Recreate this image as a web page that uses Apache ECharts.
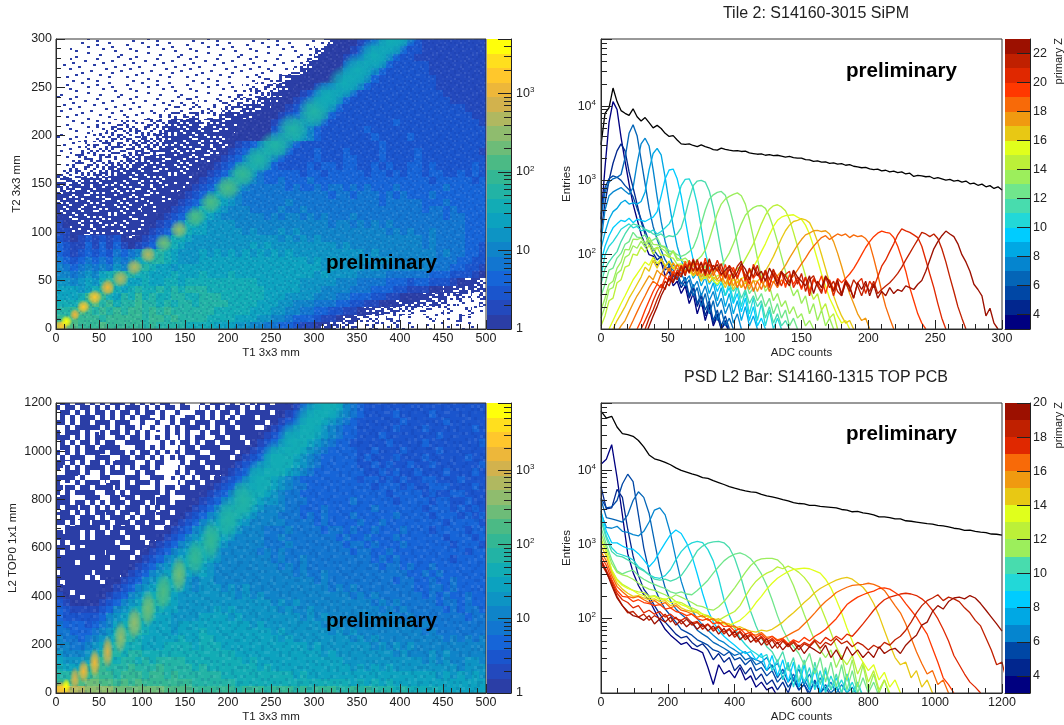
<!DOCTYPE html>
<html><head><meta charset="utf-8">
<style>html,body{margin:0;padding:0;background:#fff}#c{width:1064px;height:725px}</style>
<script src="https://cdn.jsdelivr.net/npm/echarts@6/dist/echarts.min.js"></script>
</head><body><div id="c"></div>
<script>
// ---------- values ----------
// 2D panels: one char per cell. '.' empty, ', - : ~ ; +' partly occupied cells, 0-9 a-j = colour band index
const rowsA = [
"...,,,,,,, ,,,,,,,,,, ,,,,,,,,,, ,,,,,,,:;0 0012356653 2111111111",
"..,,,,,,,, ,,,,,,,,,, ,,,,,,,,,, ,,,,,,:;00 0123566532 2111111111",
"..,,,,,,,, ,,,,,,,,,, ,,,,,,,,,, ,,,,,:;000 1235665322 1111111111",
".,,,,,,,,, ,,,,,,,,,, ,,,,,,,,,, ,,,,:;0000 2356653222 2211111111",
".,,,,,,,,, ,,,,,,,,,, ,,,,,,,,,- ,,-:;00000 3566532222 2211111111",
",,,,,,,,,, ,,,,,,,,,, ,,,,,,,,-- -:;+000001 5665322222 2221111111",
",,,,,,,,,, ,,,,,,,,,, ,,,,,,---: :;+0001235 6653222222 2221111111",
",,,,,,,,,, ,,,,,,,,,- ,,,,---::: ;+00123566 5322222222 2222111111",
",,,,,,,,,, ,,,,,,,--- ,,---:::;; +001235665 3222222222 2222211111",
",,,,,,,,,, ,,,,,----- ---:::;;;+ 0012356653 2222222222 2222222111",
",,,,,,,,,- ,,,---:::; ,::;;;;+00 0123566532 2222222222 2222222211",
",,,,,,---: ---:::;;;; :;;;;+0000 1235665322 2222222322 2222222221",
",,,,,--::: :::::;;;;; ;;;;+00000 2356653222 2223222222 2222222222",
",,,,--:::: ::~~~;;;;; ;;;+000000 3567653222 2222322223 2222222222",
",,,-:::::: :~~~~;;;;; ;;;;012356 7653222222 2222232222 2222222222",
",,-::::::: ~~~~~;;;;; ;;;0123567 6532223222 3222232222 3222222221",
",,-::::::~ ~~~;;;;;;; ;;01235676 5322223222 3322232222 3222222222",
",-:::::~~~ ~;;;;;;;;; 0012356765 3222232332 3322323223 3232222232",
":::::~~~;; ;;;;;;;;;0 0123577643 3333233233 3332332323 3233223232",
":~~~;;;;;; ;;;;;++++0 1235776543 3433343333 3333333333 3323333323",
"~~;;;;;;;; ;;;;;+++01 2357765444 4434334344 3434333433 3333433333",
";;;;;;;;;; ;;;;+++012 3577654444 4444444434 4344434343 3343333333",
";;;;;;;;;; ;;;+++0123 5887654444 4454444444 4444434444 4333433333",
"+;;;;;;;;; ;;+++01235 8876555444 4544544444 4444444444 4344343333",
"0;;;;;;;;; ;+++012358 8765555554 5455454544 4544444444 4444344333",
"10;;;;;;;; +++0123588 7666655555 5555555545 5454545444 4444444333",
"11+;;;;;+; ++01235887 7666665655 5656555555 5555554545 4454444333",
"2101212120 ;012358876 6666666666 6565656555 5555555555 5454444333",
"3211313131 0123588766 6666666767 6666666665 6555555555 5454444332",
"3212323243 4578987666 7676767676 7676666666 6665655555 5554544332",
"4323434354 5789987666 7777777777 7777767676 6666566555 5554443322",
"5434545465 7998776777 7777777777 7777777676 6665655555 5544433221",
"5545657899 9887778777 8777877777 7777776766 6655554444 4433322210",
"6656768998 7787788788 8888888877 7777666665 5544443332 3322210;;~",
"7776789a87 8988989899 9888888887 7777666555 5444333221 1100;;;~~~",
"7778a9a879 8a89889988 9998888887 7766665554 4333221100 0;;;~~~:,~",
"8889ab9a89 9a99898998 9999888877 7665554443 3221100;;; ~~~~:,:,,:",
"99aba9a9a9 aa9a9a9999 9988888777 6655443322 110;;~~~:: ,:,,:,,:,,",
"aabaaa9aaa aa9aa9a999 9888877766 5543332110 ;;~::,::,, ,,:,,,:,,,",
"ccbaaabaaa aa9a999988 8877766554 4332110;;: ::,,:,,:,, ,,,,,,,,,,"
];
const rowsC = [
"~~~~~~~~~~ ~~~:~~:::: ~~~~~~~~;; ;;01356887 5432222222 2222222222",
"~~~~~~~~~~ ~~~::::::: ~~~~~~;;;; ;012368876 5432222322 2232222222",
"~~~~~~~;~~ ~~:~:::~:~ ~~~~;;;;;; 0123588765 4322222232 2222322222",
"~~~;~~~~~~ ~~::~:::~~ ~~~~;;;;;0 1235887654 3322222322 2322222232",
"~~~~~;~~~~ ~:~::::~~~ ~~~;;;;;01 2356887654 3322232222 2223222222",
"~;~~~~~~~~ ~~~::::~~~ ~~;;;;;012 3568876543 3222223222 2322222223",
"~~~~~~;~~~ ~~~~:::~~~ ~~;;;;0123 5788765433 3322322232 2223222222",
"~;~~~~~~~~ ~~~~~,,~~~ ~;;;;01235 8887654333 3323222322 2322222322",
";~~~~~~~;~ ~~~~~,,~~~ ;;;;012356 8887654333 3322323223 2232222223",
"~~;~~~~~~~ ~~~~~,,~~; ;;;0123568 8876543333 3332232322 3222322232",
"~;~~~~;~~~ ~~~~~,:~~; ;;01235688 7654333333 3323323232 2332223222",
";~~~~~~;~~ ~~~~~::~~; ;012356788 7654433333 3333233323 2233322232",
"~~~~;~~~~; ~;~~~~~~;; 0123567887 6544333333 3333332333 3232233222",
";~~;~~~~~~ ~;~~;~~;;0 1235678876 6544433333 3433333233 3323322322",
"~;;~~~;;~~ ;~~;~~;;01 2356788765 5544333433 3333433333 3233323232",
";;~~;~~;;~ ~;;~;;;012 3567887655 5444343433 3433333433 3323332323",
"~;~;~;;~;~ ;;~;;;0123 5678876555 5544443433 3343343333 3333233332",
";~;;;;;~;; ;;;;;01235 6788765554 4454444344 3433433343 3323333233",
";;;;;;;;;; ;;;;012356 7887655554 4544444443 4334333433 3333233323",
";;;;;;;;;; ;;;0123567 8876555554 4454444444 3443433343 3333323332",
";;;+;;;+;; ;;01235678 8765555545 4544444444 4344334333 3333333233",
";+;;+;+;;+ ;012356788 8765555555 4544544444 4444343433 3333323333",
"+;+;+;+;+; 0123567887 7655555555 5454544444 4444434434 3343333333",
"+;+++;+++0 1235678876 7655555555 5554544544 4444444443 3434333333",
"+++++++001 2356788765 6655555555 5555554544 4444444344 3343343333",
"0+++++0012 3567888765 6665656555 5555555545 4544444444 3344343333",
"10+++00123 5678987666 6666656565 5555555555 5454544444 4343433433",
"2100001235 6789987666 6666666666 5656555555 5555454544 4443443433",
"3211112356 7899877666 6676766666 6565565555 5555545454 4444343443",
"3222223567 8998776666 7777676666 6666565655 5555555545 4444444344",
"4333234578 9987776777 7777777676 6666666565 5555555555 4544444444",
"4433345689 9987776777 8777777777 6766666656 5655555555 5454444444",
"5443456789 9877777877 8877777777 7676666666 6565655555 5555454545",
"5544567898 8877788887 8887777777 7777767666 6666565656 5555555555",
"6555679998 9988888888 8888877777 7777777676 6666666565 5565655555",
"766678a989 9898999988 8888887877 7777777777 6666666666 6565655665",
"87779aa999 a999a99998 9888888878 7777777777 7676767666 6666665666",
"999aabaa9a aa9aa9a999 9998888888 8887877777 7777777777 7776767676",
"aabbccbbab abaaaaaaa9 9999988888 8888888888 8787878777 7777777777",
"ffeeddddcc cccccbbbba aaaaa9aaa9 aaa9a9aaa9 9a9a999898 8888777777"
];
// Bright spots along the ridge: x, y, colour band, spread in x, spread in y
const spotsA = [[6,3,17,8,6],[12,8,19,7,6],[22,15,16,6,6],[32,23,17,8,7],[45,33,17,9,8],[60,43,16,9,9],[75,52,14,10,9],[91,64,14,10,9],[107,77,14,10,9],[125,89,12,11,10],[143,103,13,11,10],[162,116,11,13,11],[180,131,11,13,12],[200,146,11,16,13],[217,160,10,16,14],[235,175,9,18,15],[255,190,9,20,16],[275,207,9,20,17],[300,225,9,20,18],[315,240,8,20,18],[335,255,8,20,18],[350,268,8,20,18],[370,283,8,20,18],[390,298,8,20,18],[405,310,8,20,18]];
const spotsC = [[6,20,17,8,30],[12,30,19,5,30],[22,60,15,6,50],[32,90,16,7,50],[45,125,16,7,60],[60,170,15,7,70],[75,230,13,8,70],[91,290,13,9,70],[107,350,12,9,80],[125,420,11,10,80],[143,490,12,10,80],[162,560,10,11,80],[180,630,10,12,90],[200,720,9,14,90],[217,800,9,15,90],[235,880,8,16,90],[255,960,8,18,90],[275,1040,8,18,90],[295,1120,8,20,90],[315,1200,8,20,90]];
// Irregular speck mask for partly occupied cells and the fine grain of filled ones
const speckMask = ["37150926481703952648","82946130759284160375","16082574913605827491","59371648205917364028","24805196376248095163","91637028451983726504","48259371606472518397","06714852937150649281","73596024186829371560","25108963472604958317","68342719058391726045","14970582364758013692","80625149738026491853","39481706259164837201","57203894614972506386","02869351780435162979","96417260538197846021","41758023996260371584","63094817254581920736","78526349102743689415"];
const sparseKinds = {',':1, '-':2, ':':4, '~':6, ';':8, '+':9};

const birdBands = ["#2b3ea6","#2349bd","#1a55cd","#1665d8","#1276d0","#0f84c9","#0d94c4","#0ca2bf","#12acb5","#22b3a5","#33b794","#4bba85","#6dbc78","#8fbc6e","#b0b860","#d2b24d","#edb73a","#ffc72c","#ffdf1e","#ffff0a"];
const jetBands = ["#000080","#01268e","#0047a5","#0465b7","#0585cf","#00a8e4","#00ccff","#22d8d8","#48dcae","#70e68c","#9cee5c","#bcf038","#e0ff1c","#e8c814","#f09a10","#f86a08","#ff3800","#e02800","#c02000","#9c1000"];

// Tile 2 spectra, one entry every 3 ADC counts (ten per group = 30 counts)
const adcStepB = 3;
const totalB = [3000,8000,9500,17500,11500,8700,8000,7500,9200,7200,6300,7000,6000,5100,5500,5000,4300,3900,4000,3500,3100,3050,3100,2950,2850,3000,2850,2750,2600,2550,2720,2620,2550,2500,2520,2450,2480,2350,2300,2250,2270,2180,2220,2150,2180,2120,2060,2100,2030,1990,2000,1900,1890,1800,1830,1760,1770,1700,1720,1660,1680,1600,1630,1550,1520,1480,1500,1430,1400,1420,1340,1370,1300,1330,1270,1300,1220,1250,1130,1170,1150,1120,1130,1060,1090,1050,1010,1030,980,1000,950,980,900,920,860,890,820,850,780,820,740];
const zB3 = [300,1500,6000,11500,9000,3800,1800,900,480,300, 190,135,100,96,72,80,52,60,38,44, 30,38,22,30,16,24,13,20,11,15, 10,12,9];
const zB4 = [200,500,1000,1700,2500,3100,2500,1300,800,480, 280,190,140,105,85,95,62,70,45,50, 36,44,26,36,20,28,15,22,12,16, 10,13,9];
const zB5 = [350,800,1050,1150,1100,1000,850,750,600,420, 300,210,150,120,100,88,70,78,50,58, 40,50,28,40,22,30,18,24,13,18, 11,15,10];
const zB6 = [300,700,950,1050,1100,1200,2000,4300,5600,4000, 1900,900,420,240,160,115,85,70,62,50, 42,38,46,28,36,20,30,16,24,13, 18,11,14,10];
const zB7 = [150,400,620,700,750,800,720,650,800,1700, 3100,3700,2900,1400,600,280,150,100,72,65, 55,44,52,36,44,28,38,24,32,20, 26,16,22,12,16,10];
const zB8 = [120,200,300,380,420,500,540,480,500,480, 520,700,1400,2300,2700,2200,1100,500,240,130, 85,62,70,48,58,38,50,30,42,24, 36,20,30,16,24,13,20,11,15,10];
const zB9 = [80,130,180,230,260,290,280,310,270,300, 290,280,300,320,380,620,1050,1380,1420,1050, 620,300,150,85,60,50,58,40,48,32, 42,28,36,22,30,17,26,13,20,11, 14,10];
const zB10 = [50,100,130,150,180,220,240,260,230,240, 210,220,200,215,190,205,230,260,330,550, 850,1030,1050,800,480,230,110,65,45,38, 46,28,42,24,38,20,32,16,26,13, 22,11,18,10,14,10];
const zB11 = [40,65,80,95,110,150,190,230,260,250, 240,220,210,190,180,190,170,180,175,190, 230,340,560,850,980,1000,950,720,430,220, 110,60,40,32,38,26,34,22,28,20, 24,14,20,12,16,11,13,10];
const zB12 = [28,40,62,66,90,104,138,150,200,172, 170,186,150,158,170,132,128,112,110,100, 95,100,110,125,170,260,400,560,640,690, 710,630,440,270,140,75,45,30,36,24, 30,20,26,16,22,14,18,11,14,10];
const zB13 = [18,26,40,44,66,80,118,116,162,160, 168,140,172,138,136,130,124,98,114,90, 85,90,80,75,85,95,115,160,240,360, 480,560,610,650,680,620,480,300,170,90, 50,32,38,24,30,20,24,16,20,14, 16,11,13,10];
const zB14 = [14,20,34,36,56,62,92,100,132,122, 152,126,156,118,126,122,112,94,110,84, 85,78,82,70,65,60,70,62,58,65, 72,85,105,140,190,260,340,390,430,455, 460,420,330,230,150,95,60,40,28,34, 22,28,16,22,13,18,11,14,10];
const zB15 = [11,15,24,26,42,46,68,72,102,98, 128,108,136,102,126,98,100,92,90,74, 75,70,72,60,65,55,50,55,48,52, 55,50,48,55,65,70,88,110,140,190, 260,340,410,455,470,440,390,300,200,130, 80,52,35,25,30,18,22,14,16,10];
const zB16 = [6,8,10,13,17,22,28,36,46,55, 66,80,72,92,76,88,70,82,66,72, 72,62,60,52,58,48,48,54,45,40, 48,42,40,46,42,48,50,58,68,85, 110,140,185,240,290,320,335,340,345,320, 300,250,190,130,85,55,38,26,20,15, 12,13,10];
const zB17 = [5,6,8,10,13,16,20,26,32,40, 50,68,60,84,66,88,70,82,64,72, 70,58,66,52,60,44,56,42,50,44, 46,36,48,34,44,36,42,38,44,44, 50,60,75,95,125,165,210,250,280,290, 305,295,270,210,150,100,65,42,28,20, 15,12,13,10];
const zB18 = [4,5,6,7,9,11,13,17,22,28, 34,42,52,46,62,54,70,60,78,64, 66,58,72,54,66,50,62,48,60,46, 56,40,54,38,50,36,48,34,46,32, 44,36,46,42,52,60,72,90,110,135, 160,185,195,210,213,205,210,190,150,105, 70,45,30,22,16,13,14,10];
const zB19 = [3,3,4,5,6,7,8,10,13,17, 22,28,36,44,40,56,50,66,54,74, 60,82,56,78,52,70,60,84,52,68, 44,60,38,52,36,48,34,50,32,44, 34,48,32,44,36,46,40,45,52,62, 75,90,110,130,150,170,180,160,175,190, 180,190,170,185,175,180,165,140,90,55, 32,20,14,10];
const zB20 = [2,3,3,4,4,5,6,7,8,10, 13,18,24,32,40,36,50,44,60,52, 72,56,84,60,78,56,90,58,72,62, 52,74,46,68,50,70,44,62,48,58, 42,62,38,56,44,60,36,54,40,50, 34,50,32,48,38,52,30,46,34,48, 42,48,55,65,80,100,125,150,175,195, 208,200,195,170,130,90,60,36,24,16, 12,10];
const zB21 = [2,2,3,3,3,4,4,5,6,7, 10,13,17,24,32,40,34,52,44,62, 54,76,58,88,62,80,52,74,60,84, 62,50,72,60,48,66,54,40,74,58, 44,58,36,62,50,38,54,60,36,46, 36,50,28,46,40,32,50,44,28,42, 30,46,38,26,42,48,30,44,36,50, 70,85,110,140,185,222,210,200,185,170, 130,85,55,36,22,14,10];
const zB22 = [2,2,2,3,3,3,4,4,5,6, 8,10,14,18,25,33,44,38,55,46, 70,52,78,60,86,58,80,54,72,60, 76,48,64,52,70,82,46,66,50,72, 44,62,46,64,38,58,52,42,60,40, 56,32,46,52,38,30,50,36,44,32, 28,42,32,46,38,28,40,32,44,30, 34,38,42,48,56,68,85,105,130,160, 200,190,175,190,165,120,80,50,32,20, 14,10];
const zB23 = [2,2,2,2,3,3,3,3,4,5, 6,8,11,15,20,28,36,48,42,58, 50,70,58,84,60,78,56,88,62,74, 54,62,70,48,58,76,64,46,68,52, 60,44,66,52,40,60,46,38,62,50, 44,38,52,30,44,36,52,42,32,46, 28,44,36,26,42,34,44,28,40,26, 32,28,36,30,34,32,38,36,34,40, 45,60,85,120,150,180,208,190,175,140, 100,80,60,40,34,28,15,19,12,10];

// PSD L2 bar spectra, one entry every 16 ADC counts
const adcStepD = 16;
const totalD = [62000,50000,53000,38000,31000,30000,28500,25000,20500,16000,14200,13500,12700,11800,10700,9900,9400,8900,8500,7900,7750,7200,6800,6400,6000,5700,5450,5250,5100,5000,4700,4500,4350,4200,4000,3850,3650,3550,3500,3350,3350,3250,3200,3150,3100,2950,2900,2750,2780,2650,2600,2500,2350,2350,2300,2200,2200,2080,2050,2000,1950,1900,1880,1800,1780,1720,1650,1620,1540,1560,1500,1460,1440,1380,1370,1330];
const zD3 = [12000,14000,22000,8000,2500,750,420,280,210,180, 130,95,72,60,52,45,48,40,38,35, 22,13,24,18,20,16,22,15,17,12, 14,11,12,9];
const zD4 = [6000,3000,3100,5500,4300,1600,700,380,250,200, 150,115,90,75,62,55,58,48,42,46, 38,28,34,26,30,20,24,18,22,15, 18,13,15,11,14,10,16,11,13,9];
const zD5 = [4200,3100,3200,3900,6500,8800,7000,2500,900,430, 260,180,135,110,90,72,66,60,52,48, 44,38,36,32,36,28,30,24,28,20, 22,17,20,14,17,12,15,11,13,10, 15,10,12,9];
const zD6 = [4000,2300,2200,2100,2000,2500,3900,5100,4300,2600, 1100,480,260,175,135,115,100,88,70,62, 56,48,44,40,36,32,34,28,30,24, 26,20,24,16,21,14,18,12,15,11, 14,10,13,10,12,9];
const zD7 = [2600,1700,1650,1750,1500,1450,1350,1300,1500,2000, 2900,3100,2500,1400,650,320,190,130,100,82, 70,60,52,48,42,38,34,36,30,28, 26,30,22,25,18,24,15,21,13,18, 12,16,11,14,10,13,10,12,9];
const zD8 = [2800,1500,1050,1050,950,880,860,750,620,500, 600,800,1050,1350,1560,1400,1050,700,400,220, 130,90,70,58,50,44,38,34,36,28, 34,20,32,17,28,14,26,12,24,11, 22,10,20,11,16,10,18,10,14,9];
const zD9 = [2400,1300,900,760,720,680,620,500,450,390, 360,350,380,460,620,800,950,1050,1100,1060, 850,600,350,180,110,75,55,45,38,34, 30,33,20,28,15,26,12,24,14,22, 11,20,10,17,11,15,10,14,9];
const zD10 = [2100,1200,800,700,680,620,560,480,440,390, 340,330,340,320,340,380,480,620,820,950, 1040,1080,1100,1050,900,650,400,220,125,80, 55,42,36,26,36,20,30,14,28,12, 26,13,22,11,18,10,16,10,13,9];
const zD11 = [1700,1000,620,440,400,430,450,380,340,310, 290,270,255,230,220,230,215,210,240,280, 330,410,500,600,680,740,770,720,640,520, 400,280,180,110,72,52,42,34,24,34, 18,30,14,26,12,24,11,20,10,16, 10,14,9];
const zD12 = [1400,900,550,420,390,370,340,300,270,250, 240,225,210,190,210,195,180,165,150,145, 135,130,145,170,210,260,330,420,520,600, 640,650,650,620,530,400,280,180,115,75, 50,38,30,38,22,32,15,28,12,24, 11,18,10,15,9];
const zD13 = [1200,800,450,340,290,265,240,230,225,200, 205,190,180,195,170,165,150,140,130,115, 110,100,95,105,115,125,150,200,260,320, 370,410,440,500,470,510,470,420,360,290, 210,150,100,65,42,30,24,32,18,26, 14,20,11,15,10];
const zD14 = [1100,800,450,330,280,255,240,215,205,190, 200,180,185,165,170,155,145,130,125,115, 105,100,90,85,82,88,95,110,130,165, 200,250,300,350,390,430,460,470,480,470, 440,410,340,260,180,120,75,50,34,26, 20,24,15,19,12,15,10];
const zD15 = [950,700,420,300,250,220,200,205,190,180, 185,170,175,150,160,140,130,125,120,105, 110,95,100,88,85,75,78,72,68,66, 70,68,72,80,90,105,120,140,165,190, 225,255,280,305,330,350,360,340,300,265, 215,160,110,70,45,30,24,26,16,20, 12,15,10];
const zD16 = [800,600,380,270,230,200,190,200,180,165, 175,155,165,140,150,130,125,115,105,110, 95,100,85,90,78,80,70,72,62,60, 65,56,58,52,55,60,66,72,85,100, 120,145,170,195,225,245,265,280,285,290, 300,290,270,240,190,150,120,85,55,36, 25,18,20,13,15,10];
const zD17 = [700,520,340,240,200,195,170,180,165,160, 150,155,135,140,125,120,110,115,100,95, 100,85,90,78,80,68,74,62,66,56, 62,52,58,50,54,46,52,48,56,50, 58,64,72,85,100,125,155,175,195,210, 225,235,255,260,250,225,200,160,130,105, 80,62,40,26,16,13,10];
const zD18 = [620,450,320,220,180,165,140,150,120,130, 115,125,105,115,100,95,105,88,92,78, 85,72,80,66,74,60,68,56,62,50, 58,48,54,46,52,44,50,42,48,44, 52,46,56,50,58,52,62,58,70,85, 105,130,155,180,195,205,215,220,215,205, 185,160,130,100,72,50,32,24,18,14, 12,10];
const zD19 = [560,420,300,200,150,120,125,105,115,95, 110,100,115,90,105,85,98,82,90,72, 84,68,78,62,72,56,66,52,60,48, 56,44,52,40,50,42,48,38,46,42, 50,40,48,44,54,46,50,42,48,44, 38,44,40,48,44,52,58,70,90,120, 150,175,190,210,175,195,185,170,140,120, 95,80,55,38,24,26,13,10];
const zD20 = [600,430,280,190,150,125,110,105,95,110, 85,100,90,105,82,95,78,90,72,85, 68,80,62,74,58,68,52,62,48,56, 44,54,40,48,38,46,36,44,34,42, 38,34,44,30,38,28,42,32,38,30, 36,30,42,34,38,40,34,44,52,60, 82,90,125,150,135,170,190,195,185,205, 190,160,130,105,85,68];

const seriesB = [zB3,zB4,zB5,zB6,zB7,zB8,zB9,zB10,zB11,zB12,zB13,zB14,zB15,zB16,zB17,zB18,zB19,zB20,zB21,zB22,zB23];
const seriesD = [zD3,zD4,zD5,zD6,zD7,zD8,zD9,zD10,zD11,zD12,zD13,zD14,zD15,zD16,zD17,zD18,zD19,zD20];

const logMinorSpectra = [20,30,40,50,60,70,80,90,200,300,400,500,600,700,800,900,2000,3000,4000,5000,6000,7000,8000,9000,20000,30000,40000,50000,60000,70000];
const logMinorBarA = [2,3,4,5,6,7,8,9,20,30,40,50,60,70,80,90,200,300,400,500,600,700,800,900,2000,3000,4000];
const logMinorBarC = [2,3,4,5,6,7,8,9,20,30,40,50,60,70,80,90,200,300,400,500,600,700,800,900,2000,3000,4000,5000,6000,7000];
const zTicksB = [4,6,8,10,12,14,16,18,20,22];
const zTicksD = [4,6,8,10,12,14,16,18,20];

// ---------- styles & helpers ----------
const FONT = '"Liberation Sans", Arial, sans-serif';
const INK = '#222';
const bandCount = birdBands.length;

function makePattern(k, bw, bh) {
  const cv = document.createElement('canvas');
  cv.width = 20*bw; cv.height = 20*bh;
  const g = cv.getContext('2d');
  g.fillStyle = birdBands[0];
  speckMask.forEach((row, r) => { for (let c = 0; c < 20; c++) if (+row[c] < k) g.fillRect(c*bw, r*bh, bw, bh); });
  return {image: cv, repeat: 'repeat'};
}
function makeGrain(b) {
  const cv = document.createElement('canvas');
  cv.width = 20*b; cv.height = 20*b;
  const g = cv.getContext('2d');
  speckMask.forEach((row, r) => { for (let c = 0; c < 20; c++) {
    const d = +row[c];
    if (d <= 1) g.fillStyle = 'rgba(20,30,120,.12)';
    else if (d === 9) g.fillStyle = 'rgba(255,255,255,.09)';
    else if (d === 8) g.fillStyle = 'rgba(255,255,255,.04)';
    else continue;
    g.fillRect(c*b, r*b, b, b);
  }});
  return {image: cv, repeat: 'repeat'};
}
const patternsA = {}, patternsC = {};
Object.values(sparseKinds).forEach(k => { patternsA[k] = makePattern(k, 3, 2); patternsC[k] = makePattern(k, 5, 5); });
const grainA = makeGrain(2), grainC = makeGrain(3);

function cells(rows, xMax, yMax) {
  const out = [];
  rows.forEach((raw, r) => {
    const s = raw.replace(/ /g, '');
    const nr = rows.length, nc = 60;
    for (let c = 0; c < nc; c++) {
      const ch = s[c];
      if (!ch || ch === '.') continue;
      const code = ch in sparseKinds ? -sparseKinds[ch] : parseInt(ch, 36);
      out.push([(c + .5)*xMax/nc, yMax - (r + .5)*yMax/nr, code]);
    }
  });
  return out;
}
function cellSeries(grid, data, xMax, yMax, pats, grain) {
  const w = xMax/60, h = yMax/40;
  return {type:'custom', name:'counts', xAxisIndex:grid, yAxisIndex:grid, data, animation:false, silent:true, progressive:0, clip:true,
    encode:{x:0,y:1},
    renderItem(p, api) {
      const x = api.value(0), y = api.value(1), code = api.value(2);
      const a = api.coord([x-w/2, y+h/2]), b = api.coord([x+w/2, y-h/2]);
      const X = Math.round(a[0]), Y = Math.round(a[1]);
      const shape = {x:X, y:Y, width:Math.round(b[0])-X, height:Math.round(b[1])-Y};
      if (code < 0) return {type:'rect', shape, style:{fill:pats[-code]}};
      return {type:'group', children:[{type:'rect', shape, style:{fill:birdBands[code]}}, {type:'rect', shape, style:{fill:grain}}]};
    }};
}
const withAlpha = (hex, a) => 'rgba(' + parseInt(hex.slice(1,3),16) + ',' + parseInt(hex.slice(3,5),16) + ',' + parseInt(hex.slice(5,7),16) + ',' + a + ')';
function spotSeries(grid, spots) {
  return {type:'custom', name:'ridge', xAxisIndex:grid, yAxisIndex:grid, data:spots, animation:false, silent:true, clip:true, z:2.5,
    encode:{x:0,y:1},
    renderItem(p, api) {
      const x = api.value(0), y = api.value(1), col = birdBands[api.value(2)];
      const c = api.coord([x,y]), e = api.coord([x+api.value(3), y+api.value(4)]);
      return {type:'circle', shape:{cx:0, cy:0, r:10}, x:c[0], y:c[1], scaleX:Math.abs(e[0]-c[0])/10, scaleY:Math.abs(e[1]-c[1])/10,
        style:{fill:{type:'radial', x:.5, y:.5, r:.5, colorStops:[{offset:0,color:withAlpha(col,1)},{offset:.55,color:withAlpha(col,.65)},{offset:1,color:withAlpha(col,0)}]}}};
    }};
}
function lineSeries(grid, name, ys, step, color, width) {
  return {type:'line', name, xAxisIndex:grid, yAxisIndex:grid, data:ys.map((v,i)=>[i*step,v]), showSymbol:false, symbol:'none', clip:true,
    animation:false, silent:true, lineStyle:{color, width}, itemStyle:{color}, z:3};
}
function tickSeries(grid, values, xAt, dx) {
  return {type:'custom', name:'minor ticks', xAxisIndex:grid, yAxisIndex:grid, data:values.map(v=>[xAt,v]), animation:false, silent:true, clip:false, z:9,
    encode:{x:0,y:1},
    renderItem(p, api) {
      const a = api.coord([api.value(0), api.value(1)]);
      const y = Math.round(a[1]) + .5;
      return {type:'line', shape:{x1:a[0], y1:y, x2:a[0]+dx, y2:y}, style:{stroke:INK, lineWidth:1}};
    }};
}
function bandSeries(grid, edges, colors) {
  return {type:'custom', name:'colour bar', xAxisIndex:grid, yAxisIndex:grid, data:colors.map((c,i)=>[0,edges[i],edges[i+1],i]), animation:false, silent:true, clip:true,
    encode:{x:0,y:1},
    renderItem(p, api) {
      const a = api.coord([0, api.value(2)]), b = api.coord([1, api.value(1)]);
      const Y = Math.round(a[1]);
      return {type:'rect', shape:{x:a[0], y:Y, width:b[0]-a[0], height:Math.round(b[1])-Y}, style:{fill:colors[api.value(3)]}};
    }};
}
const gridAt = (l,t,w,h,show) => ({left:l, top:t, width:w, height:h, show, borderColor:'#333', borderWidth:1, backgroundColor:'transparent', z:20});
const plainNum = v => String(v);
function valueX(grid, max, interval, split, name) {
  return {type:'value', gridIndex:grid, min:0, max, interval, z:10, name, nameLocation:'middle', nameGap:18,
    nameTextStyle:{fontFamily:FONT, fontSize:11.5, color:INK},
    axisLine:{onZero:false, lineStyle:{color:INK}}, splitLine:{show:false},
    axisTick:{inside:true, length:9, lineStyle:{color:INK}},
    minorTick:{show:true, splitNumber:split, length:5, lineStyle:{color:INK}},
    axisLabel:{fontFamily:FONT, fontSize:12.5, color:INK, margin:3, formatter:plainNum}};
}
function valueY(grid, max, interval, name, gap) {
  return {type:'value', gridIndex:grid, min:0, max, interval, z:10, name, nameLocation:'middle', nameRotate:90, nameGap:gap,
    nameTextStyle:{fontFamily:FONT, fontSize:11.5, color:INK},
    axisLine:{onZero:false, lineStyle:{color:INK}}, splitLine:{show:false},
    axisTick:{inside:true, length:9, lineStyle:{color:INK}},
    minorTick:{show:true, splitNumber:5, length:5, lineStyle:{color:INK}},
    axisLabel:{fontFamily:FONT, fontSize:12.5, color:INK, margin:4, formatter:plainNum}};
}
const powLabel = v => {
  const e = Math.round(Math.log10(v));
  if (Math.abs(Math.pow(10,e) - v) > 1e-6*v) return '';
  if (e === 0) return '1';
  if (e === 1) return '10';
  return '10{s|' + e + '}';
};
function logY(grid, min, max, pos, name, labelFn) {
  return {type:'log', logBase:10, gridIndex:grid, min, max, position:pos, z:10, name, nameLocation:'middle', nameRotate:90, nameGap:28,
    nameTextStyle:{fontFamily:FONT, fontSize:11.5, color:INK},
    axisLine:{show:true, onZero:false, lineStyle:{color:INK}}, splitLine:{show:false},
    axisTick:{show:true, inside:true, length:pos==='right'?13:11, lineStyle:{color:INK}},
    minorTick:{show:false},
    axisLabel:{show:true, showMinLabel:true, showMaxLabel:true, fontFamily:FONT, fontSize:12.5, color:INK, margin:5, formatter:labelFn,
      rich:{s:{fontFamily:FONT, fontSize:8, color:INK, verticalAlign:'top', padding:[0,0,7,0]}}}};
}
const hiddenX = grid => ({type:'value', gridIndex:grid, min:0, max:1, show:true, z:10,
  axisLine:{onZero:false, lineStyle:{color:INK}}, axisTick:{show:false}, axisLabel:{show:false}, splitLine:{show:false}});
function zAxisY(grid, min, max, ticks) {
  return {type:'value', gridIndex:grid, min, max, position:'right', z:10,
    axisLine:{show:true, onZero:false, lineStyle:{color:INK}}, splitLine:{show:false},
    axisTick:{show:true, inside:true, length:13, customValues:ticks, lineStyle:{color:INK}},
    axisLabel:{show:true, customValues:ticks, fontFamily:FONT, fontSize:12.5, color:INK, margin:3}};
}
const logEdges = (max) => birdBands.map((_,i)=>Math.pow(max, i/bandCount)).concat([max]);
const pickJet = (i, n) => jetBands[Math.round(i*(jetBands.length-1)/(n-1))];
const intEdges = (a,b) => { const e=[]; for (let v=a; v<=b; v++) e.push(v); return e; };

const maxBarA = 4900, maxBarC = 8000;
const jet20 = Array.from({length:20}, (_,i)=>pickJet(i,20));
const jet17 = Array.from({length:17}, (_,i)=>pickJet(i,17));

const series = [
  cellSeries(0, cells(rowsA,500,300), 500, 300, patternsA, grainA),
  spotSeries(0, spotsA),
  bandSeries(1, logEdges(maxBarA), birdBands),
  tickSeries(1, logMinorBarA, 1, -7),
  lineSeries(2, 'all', totalB, adcStepB, '#000', 1.3),
  ...seriesB.map((ys,i)=>lineSeries(2, 'Z='+(i+3), ys, adcStepB, pickJet(i,seriesB.length), 1.35)),
  tickSeries(2, logMinorSpectra, 0, 6),
  bandSeries(3, intEdges(3,23), jet20),
  cellSeries(4, cells(rowsC,500,1200), 500, 1200, patternsC, grainC),
  spotSeries(4, spotsC),
  bandSeries(5, logEdges(maxBarC), birdBands),
  tickSeries(5, logMinorBarC, 1, -7),
  lineSeries(6, 'all', totalD, adcStepD, '#000', 1.3),
  ...seriesD.map((ys,i)=>lineSeries(6, 'Z='+(i+3), ys, adcStepD, pickJet(i,seriesD.length), 1.3)),
  tickSeries(6, logMinorSpectra, 0, 6),
  bandSeries(7, intEdges(3,20), jet17)
];

const prelim = (x,y) => ({type:'text', left:x, top:y, z:100, silent:true,
  style:{text:'preliminary', fontFamily:FONT, fontSize:20.6, fontWeight:'bold', fill:'#000'}});

const chart = echarts.init(document.getElementById('c'), null, {renderer:'canvas'});
chart.setOption({
  animation:false, backgroundColor:'#fff',
  title:[
    {text:'Tile 2: S14160-3015 SiPM', left:816, top:6, padding:0, textAlign:'center', textStyle:{fontFamily:FONT, fontSize:16, fontWeight:'normal', color:INK}},
    {text:'PSD L2 Bar: S14160-1315 TOP PCB', left:816, top:370, padding:0, textAlign:'center', textStyle:{fontFamily:FONT, fontSize:16, fontWeight:'normal', color:INK}}
  ],
  grid:[gridAt(56,39,430,290,true), gridAt(487,39,24,290,false), gridAt(601,39,401,290,true), gridAt(1005,39,25,290,false),
        gridAt(56,403,430,290,true), gridAt(487,403,24,290,false), gridAt(601,403,401,290,true), gridAt(1005,403,25,290,false)],
  xAxis:[valueX(0,500,50,5,'T1 3x3 mm'), hiddenX(1), valueX(2,300,50,5,'ADC counts'), hiddenX(3),
         valueX(4,500,50,5,'T1 3x3 mm'), hiddenX(5), valueX(6,1200,200,4,'ADC counts'), hiddenX(7)],
  yAxis:[valueY(0,300,50,'T2 3x3 mm',33), logY(1,1,maxBarA,'right','',powLabel), logY(2,10,80000,'left','Entries',v=>v===10?'':powLabel(v)), zAxisY(3,3,23,zTicksB),
         valueY(4,1200,200,'L2 TOP0 1x1 mm',37), logY(5,1,maxBarC,'right','',powLabel), logY(6,10,80000,'left','Entries',v=>v===10?'':powLabel(v)), zAxisY(7,3,20,zTicksD)],
  series,
  graphic:[
    prelim(326,253), prelim(846,61), prelim(326,611), prelim(846,424),
    {type:'text', z:100, silent:true, left:1053, top:38, rotation:Math.PI/2, style:{text:'primary Z', fontFamily:FONT, fontSize:11, fill:INK}},
    {type:'text', z:100, silent:true, left:1053, top:402, rotation:Math.PI/2, style:{text:'primary Z', fontFamily:FONT, fontSize:11, fill:INK}}
  ]
});
</script></body></html>
